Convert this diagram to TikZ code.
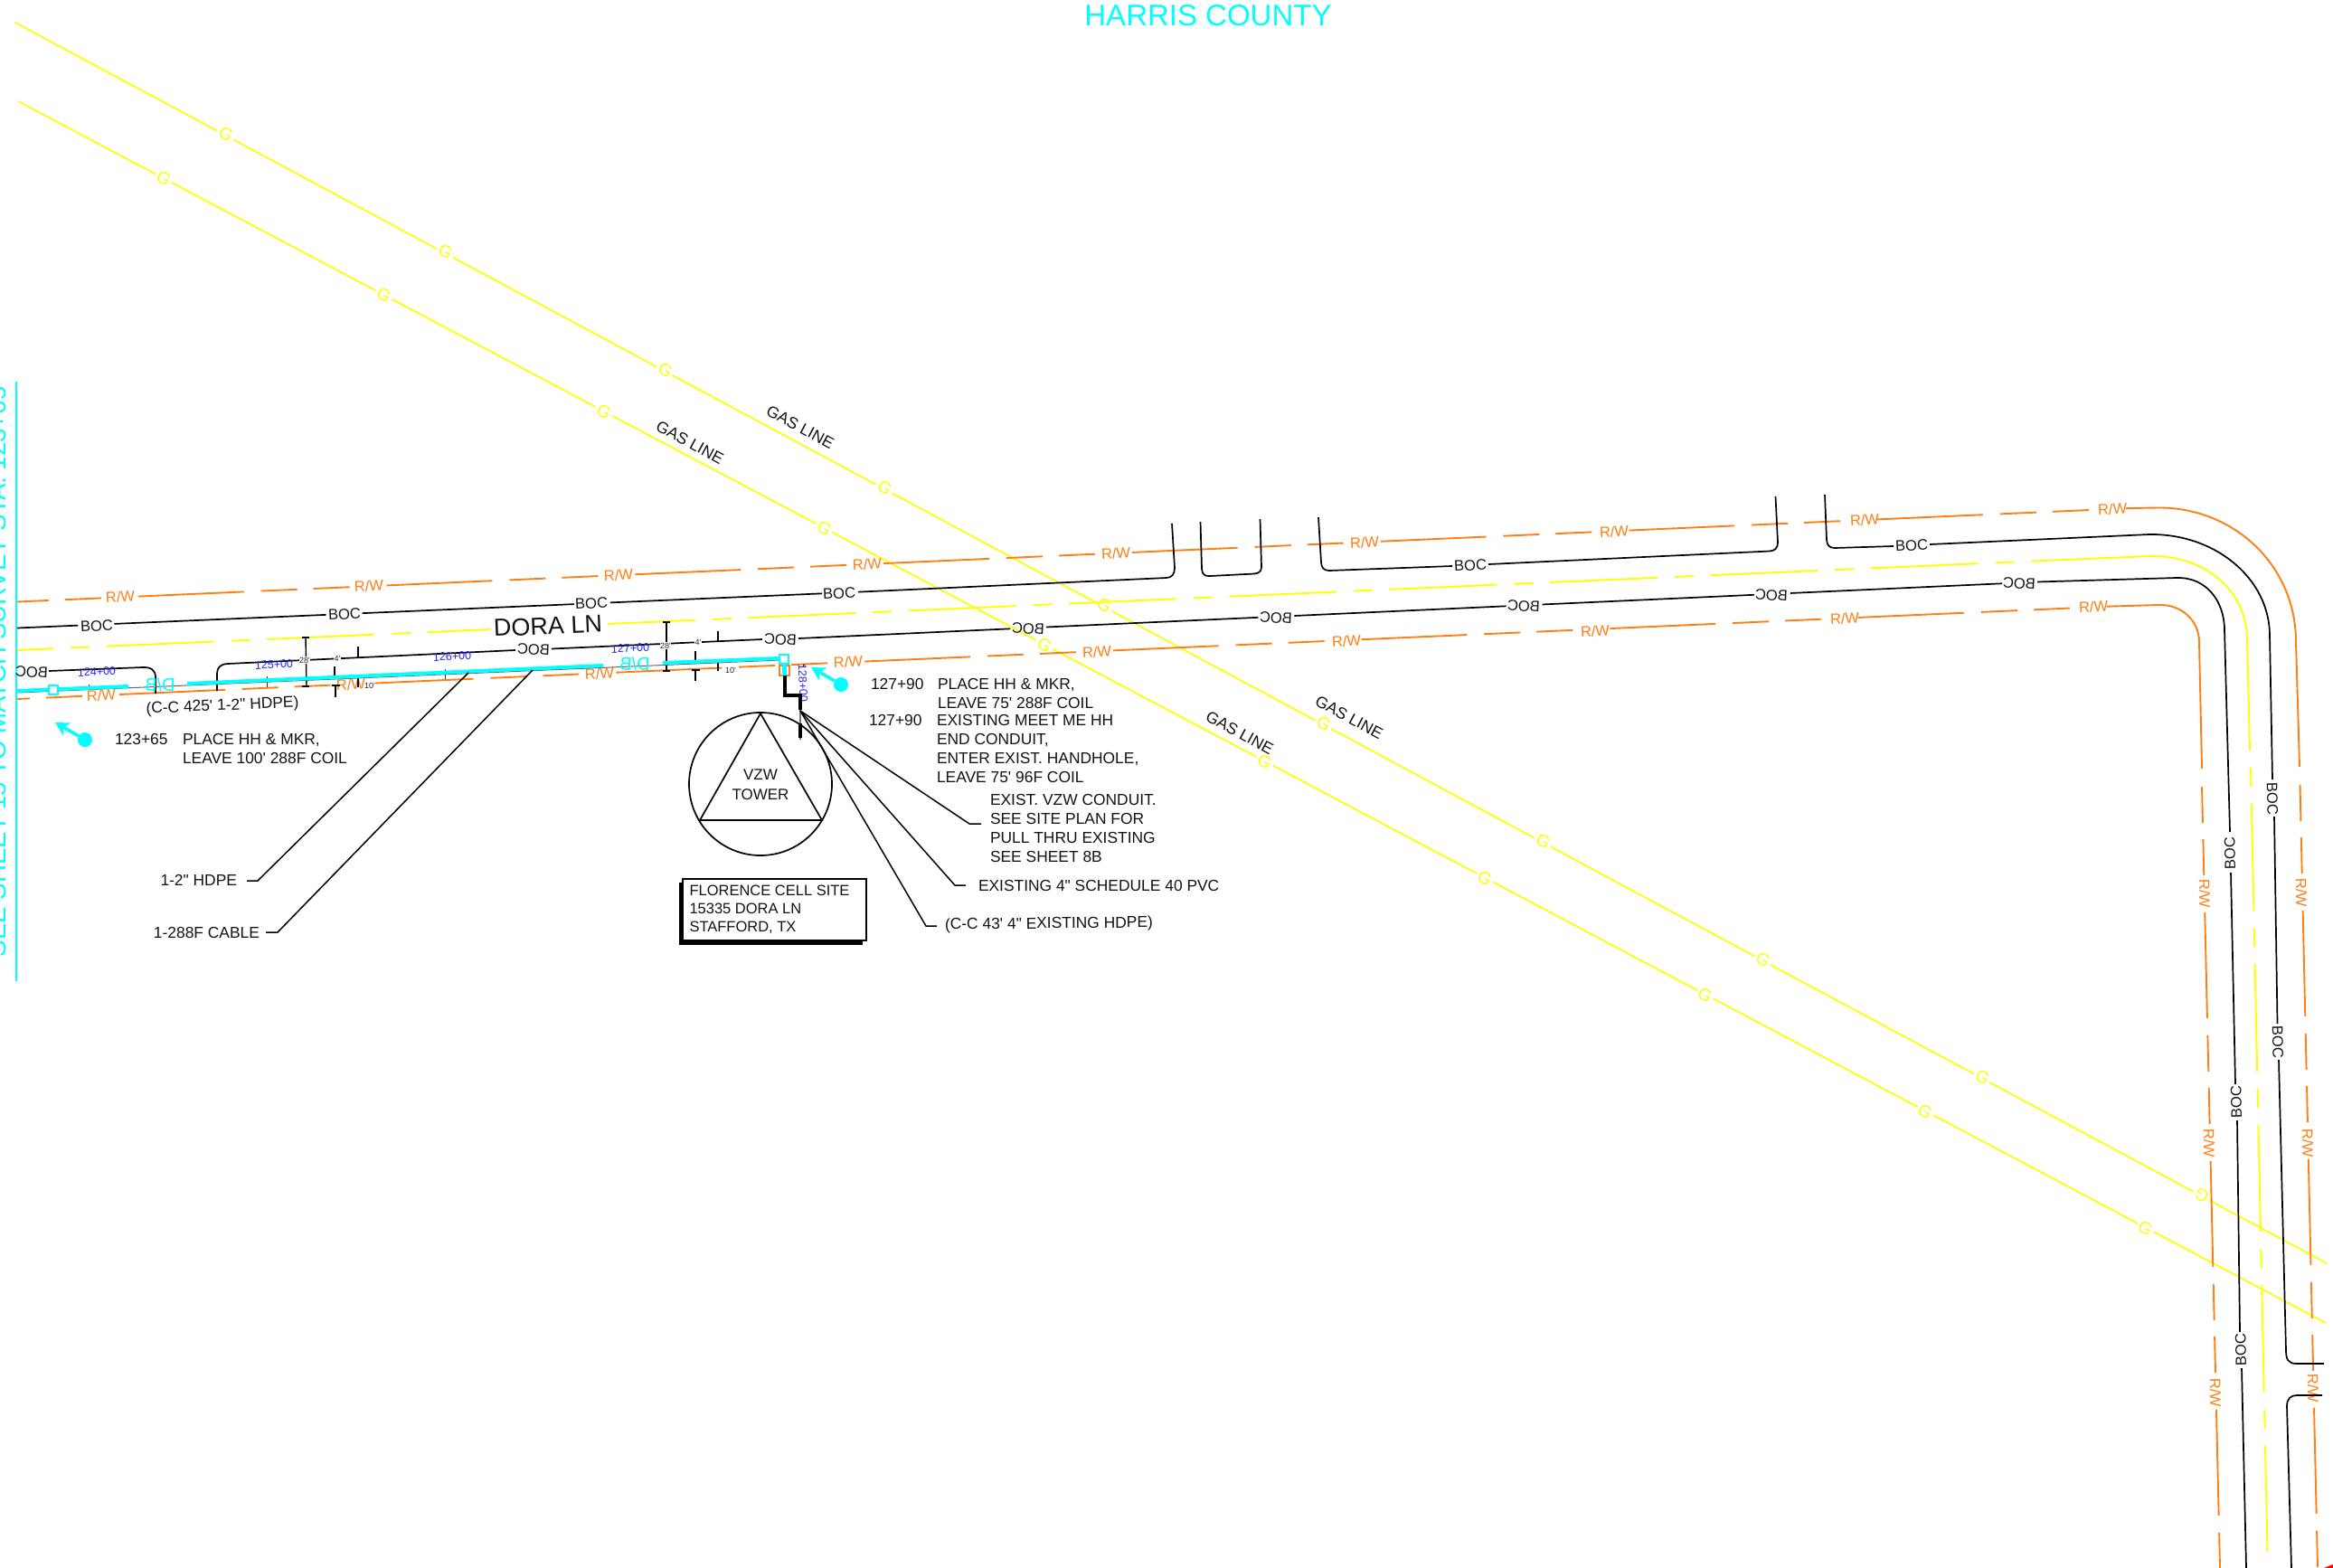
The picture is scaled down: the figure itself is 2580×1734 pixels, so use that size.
\documentclass[tikz,border=0pt]{standalone}
\usepackage{fontspec}
\usepackage{graphicx}
\usetikzlibrary{arrows.meta}
\newfontfamily\arial{Liberation Sans}
\definecolor{rwcol}{RGB}{255,127,20}
\definecolor{gascol}{RGB}{255,255,0}
\definecolor{cy}{RGB}{0,255,255}
\definecolor{stblue}{RGB}{35,35,255}
\newcommand{\fsz}[2]{\arial\fontsize{#1}{#2}\selectfont}
\tikzset{
  txt/.style={inner sep=0pt,outer sep=0pt,font=\fsz{#1}{#1},text=black!92},
  note/.style={inner sep=0pt,outer sep=0pt,font=\fsz{17.4}{21},text=black!92,align=left,anchor=west},
  rwlab/.style={txt=16.5,text=rwcol,rotate=2.5},
  rwv/.style={txt=16.5,text=rwcol,rotate=-88.7},
  boc/.style={txt=16.6,rotate=2.5},
  bocm/.style={txt=16.6,rotate=-2.5},
  sta/.style={txt=12.5,text=stblue,rotate=2.5},
  dimt/.style={txt=9,text=black!85,fill=white,inner sep=0.6pt},
  gasg/.style={txt=19,text=gascol,rotate=-28.2},
  gast/.style={txt=17.7,rotate=-28.2},
  dbt/.style={txt=20,text=cy,rotate=-2.5},
  rwline/.style={draw=rwcol,line width=1.9pt},
  rwdash/.style={rwline,dash pattern=on 117pt off 19pt on 40pt off 18pt on 40pt off 41pt},
  yline/.style={draw=gascol,line width=1.9pt},
  ydash/.style={yline,dash pattern=on 119pt off 19pt on 21pt off 18.5pt},
  gasline/.style={draw=gascol,line width=1.7pt,dash pattern=on 255.6pt off 20pt},
  bline/.style={draw=black,line width=1.7pt},
  bdash/.style={bline,dash pattern=on 234.5pt off 40pt},
  lead/.style={draw=black,line width=1.5pt},
  dimm/.style={draw=black,line width=1.4pt},
  dimb/.style={draw=black,line width=2pt},
  conduit/.style={draw=cy,line width=4pt},
  hh/.style={draw=cy,fill=white,line width=1.6pt,minimum size=10pt,inner sep=0pt,outer sep=0pt},
  hhdot/.style={circle,fill=cy,minimum size=16pt,inner sep=0pt,outer sep=0pt},
  hharrow/.style={draw=cy,line width=3.6pt,-{Stealth[length=15pt,width=16pt,inset=4pt]}},
  thick black/.style={draw=black,line width=3.4pt},
}
\begin{document}
\begin{tikzpicture}[x=1pt,y=-1pt]
\useasboundingbox (0,0) rectangle (2580,1734);
\fill[white] (0,0) rectangle (2580,1734);
\clip (0,0) rectangle (2580,1734);

% ---------- sheet match line and titles
\draw[draw=cy,line width=1.4pt] (18,422) -- (18,1085);
\node[txt=27.6,text=cy,rotate=90,anchor=base west] (matchtext) at (6.7,1058) {SEE SHEET 15 TO MATCH SURVEY STA. 123+65};
\node[txt=33,text=cy] (harris) at (1336,17) {HARRIS COUNTY};

% ---------- gas lines
\coordinate (g1a) at (16.5,24.7); \coordinate (g1b) at (2573,1397);
\coordinate (g2a) at (20,112);    \coordinate (g2b) at (2572,1463);
\draw[gasline,dash phase=1.6pt]  (g1a) -- (g1b);
\draw[gasline,dash phase=83.6pt] (g2a) -- (g2b);
\foreach \i in {0,...,8}{\node[gasg] (ga\i) at ({250+242.8*\i},{148+130.4*\i}) {G};}
\node[gasg,rotate=180] (ga9) at (2435,1322) {G};
\foreach \i in {0,...,9}{\node[gasg] (gb\i) at ({181+243.5*\i},{197+129*\i}) {G};}
\node[gast] (gl1) at (885,472) {GAS LINE};
\node[gast] (gl2) at (763,489) {GAS LINE};
\node[gast] (gl3) at (1492,793) {GAS LINE};
\node[gast] (gl4) at (1371,810) {GAS LINE};

% ---------- outer right-of-way
\draw[rwdash,dash phase=141pt] (19,665.5) -- (2356,562);
\draw[rwline] (2356,562) -- (2387,561.5) .. controls (2470,561) and (2539,625) .. (2539,710) -- (2543,848);
\draw[rwdash,dash phase=136pt] (2543.5,868) -- (2563,1734);
\foreach \x/\y [count=\n] in {133/660,408/648,684/636,959/624,1234/612,1509/600,1785/588,2062/575,2336/563}
  {\node[rwlab] (rwa\n) at (\x,\y) {R/W};}
\foreach \x/\y [count=\n] in {2545/987,2552/1264,2558/1535}
  {\node[rwv] (rwb\n) at (\x,\y) {R/W};}

% ---------- inner right-of-way
\draw[rwdash,dash phase=162pt] (19,773) -- (2335,670.5);
\draw[rwline] (2335,670.5) -- (2387,669) .. controls (2412,668) and (2432,686) .. (2432,710) -- (2435,850);
\draw[rwdash,dash phase=136pt] (2435,870) -- (2455,1734);
\foreach \x/\y [count=\n] in {112/769,388/757,663/745,938/732,1213/721,1489/709,1764/698,2040/684,2315/671}
  {\node[rwlab] (rwc\n) at (\x,\y) {R/W};}
\foreach \x/\y [count=\n] in {2438/988,2443/1264,2450/1540}
  {\node[rwv] (rwd\n) at (\x,\y) {R/W};}

% ---------- centre line
\draw[ydash,dash phase=78.5pt] (19,719) -- (543,696);
\draw[ydash,dash phase=22pt] (672,690) -- (2248,620.5);
\draw[yline] (2248,620.5) -- (2378,615) .. controls (2440,614) and (2485,655) .. (2485,707) -- (2488,830);
\draw[ydash,dash phase=138pt] (2489,849) -- (2507.5,1716);
\node[txt=27,rotate=2.5] (dora) at (606,692) {DORA LN};

% ---------- upper back of curb
\draw[bdash,dash phase=167pt] (19,694.5) -- (952,654.5);
\draw[bline] (952,654.5) -- (1290,639) .. controls (1296,638.7) and (1299,635) .. (1299,628) -- (1296,579);
\draw[bline] (1327.5,577) -- (1329,629) .. controls (1329.5,635) and (1332,637.5) .. (1338,637) -- (1387,634.5) .. controls (1392,634) and (1395,632) .. (1395,627) -- (1393.5,574);
\draw[bline] (1458,572) -- (1461,622) .. controls (1461.5,628) and (1464,631) .. (1470,631) -- (1606,626);
\draw[bline] (1646,624) -- (1957,609.5) .. controls (1963,609) and (1966,606) .. (1966,600) -- (1963.5,549);
\draw[bline] (2018,547) -- (2020,597) .. controls (2020.5,603) and (2023,606) .. (2029,606) -- (2094,604);
\draw[bline] (2134,602) -- (2377,591) .. controls (2450,590) and (2510,640) .. (2510,703) -- (2513,862);
\draw[bline] (2515,903) -- (2518.5,1132);
\draw[bline] (2520,1172) -- (2528,1494) .. controls (2528.2,1503) and (2530,1508) .. (2540,1508) -- (2570,1508);
\draw[bline] (2568,1543) -- (2540,1543) .. controls (2533,1543) and (2529,1547) .. (2529,1555) -- (2534,1734);
\foreach \x/\y [count=\n] in {107/692,381/679,654/667,928/656,1626/625,2114/603}
  {\node[boc] (boca\n) at (\x,\y) {BOC};}
\node[txt=16.6,rotate=-88.7] (bocb1) at (2513,883) {BOC};
\node[txt=16.6,rotate=-88.7] (bocb2) at (2519,1152) {BOC};

% ---------- lower back of curb
\draw[bline] (54,742) -- (158,738) .. controls (167,737.7) and (172,741) .. (172,749) -- (172,767);
\draw[bline] (240,764) -- (240,745) .. controls (240,738) and (244,734.3) .. (252,734) -- (570,719);
\draw[bline] (610,717.5) -- (843,707);
\draw[bdash] (883,706) -- (2253,643.5);
\draw[bline] (2253,643.5) -- (2407,639) .. controls (2440,638) and (2460,665) .. (2460,697) -- (2466,920);
\draw[bline] (2467,965) -- (2472,1199);
\draw[bline] (2474,1239) -- (2477,1473);
\draw[bline] (2479,1513) -- (2484,1734);
\foreach \x/\y [count=\n] in {35/743,590/718,863/707,1137/695,1411/683,1685/670,1959/658,2233/645}
  {\node[bocm] (bocc\n) at (\x,\y) {\reflectbox{BOC}};}
\node[txt=16.6,rotate=91.3] (bocd1) at (2466,944) {BOC};
\node[txt=16.6,rotate=91.3] (bocd2) at (2473,1219) {BOC};
\node[txt=16.6,rotate=91.3] (bocd3) at (2478,1493) {BOC};

% ---------- station ticks and labels
\draw[dimm,line width=1pt,draw=black!80] (98,757) -- (98,762);
\draw[dimm,line width=1pt,draw=black!80] (295,748) -- (295,760);
\draw[dimm,line width=1pt,draw=black!80] (492,740) -- (492,751);
\draw[dimm,line width=1pt,draw=black!80] (888,734) -- (888,738);
\node[sta] (st124) at (107,743) {124+00};
\node[sta] (st125) at (303,735) {125+00};
\node[sta] (st126) at (500,726) {126+00};
\node[sta] (st127) at (697,717) {127+00};
\node[txt=12.5,text=stblue,rotate=-87.5] (st128) at (888,755) {128+00};

% ---------- dimensions near 125+00
\draw[dimm] (338,705) -- (339,759);
\draw[dimb] (334,705) -- (342,705);
\draw[dimb] (334,759) -- (342,759);
\draw[dimm] (396,715) -- (396,727);
\draw[dimm] (370,737) -- (370,749);
\draw[dimb] (367,749) -- (376,749);
\draw[dimm] (371,771) -- (371,758);
\draw[dimb] (367,758) -- (376,758);
\draw[dimb] (392,748) -- (401,748);
\draw[dimm,line width=2pt] (396,748) -- (396,760);
\node[dimt] (d28a) at (337,730) {28'};
\node[dimt] (d4a) at (373,728) {4'};
\node[dimt] (d10a) at (409,758) {10'};
% ---------- dimensions near 127+00
\draw[dimm] (737,688) -- (737,742);
\draw[dimb] (733,688) -- (741,688);
\draw[dimb] (733,742) -- (741,742);
\draw[dimm] (794,698) -- (794,710);
\draw[dimm] (769,720) -- (769,732);
\draw[dimb] (765,732) -- (774,732);
\draw[dimm] (769,741) -- (769,753);
\draw[dimb] (765,741) -- (774,741);
\draw[dimb] (790,731) -- (799,731);
\draw[dimm] (794,731) -- (794,742);
\node[dimt] (d28b) at (736,714) {28'};
\node[dimt] (d4b) at (772,710) {4'};
\node[dimt] (d10b) at (808,741) {10'};

% ---------- conduit
\draw[draw=black!60,line width=1pt] (19,766) -- (862,730);
\draw[conduit] (19,764) -- (142,759);
\draw[conduit] (207,756) -- (667,736);
\draw[conduit] (733,733) -- (862,728);
\node[dbt] (db1) at (177,757) {\reflectbox{D/B}};
\node[dbt] (db2) at (702,734) {\reflectbox{D/B}};
\draw[rwcol,line width=1.5pt] (862,736) rectangle (873,747);
\draw[conduit,line width=5pt] (867,733) -- (867,748);
\node[hh] (hh1) at (59,763) {};
\node[hh] (hh2) at (867,729) {};
\draw[thick black] (868,747) -- (868,769) -- (885,769) -- (885,785);
\draw[draw=black!55,line width=1.4pt] (885,785) -- (885,818);
\draw[thick black] (885,800) -- (885,816);

% ---------- handhole arrows
\node[hhdot] (dot1) at (94,818) {};
\coordinate (tip1) at (61,799);
\draw[hharrow] (dot1) -- (tip1);
\node[hhdot] (dot2) at (930,757) {};
\coordinate (tip2) at (897,738);
\draw[hharrow] (dot2) -- (tip2);

% ---------- tower
\node[circle,draw=black,line width=1.7pt,minimum size=158pt,inner sep=0pt,outer sep=0pt] (tower) at (841,867) {};
\coordinate (tri1) at (841,789); \coordinate (tri2) at (774,907); \coordinate (tri3) at (909,907);
\draw[bline] (tri1) -- (tri2) -- (tri3) -- cycle;
\node[inner sep=0pt,outer sep=0pt,align=center,font=\fsz{17}{22},text=black!92] (vzw) at (841,868) {VZW\\TOWER};

% ---------- site box
\fill[black] (750.5,976) rectangle (953.5,1044.5);
\node[draw=black,line width=2pt,fill=white,minimum width=203pt,minimum height=68pt,inner sep=0pt,outer sep=0pt] (sitebox) at (856,1006) {};
\node[inner sep=0pt,outer sep=0pt,font=\fsz{16.5}{20},text=black!92,align=left,anchor=west] (sitetext) at (762.5,1006) {FLORENCE CELL SITE\\15335 DORA LN\\STAFFORD, TX};

% ---------- notes
\node[txt=17.4,rotate=2.5] (cc425) at (246,781) {(C-C 425' 1-2" HDPE)};
\node[txt=17.4,anchor=west] (s12365) at (127,818) {123+65};
\node[note] (note1) at (202,828.5) {PLACE HH \& MKR,\\LEAVE 100' 288F COIL};
\node[txt=17.4,anchor=west] (s12790a) at (963,757) {127+90};
\node[note] (note2) at (1037,767.5) {PLACE HH \& MKR,\\LEAVE 75' 288F COIL};
\node[txt=17.4,anchor=west] (s12790b) at (961,797) {127+90};
\node[note] (note3) at (1036,828.5) {EXISTING MEET ME HH\\END CONDUIT,\\ENTER EXIST. HANDHOLE,\\LEAVE 75' 96F COIL};
\node[note] (note4) at (1095,916) {EXIST. VZW CONDUIT.\\SEE SITE PLAN FOR\\PULL THRU EXISTING\\SEE SHEET 8B};
\node[txt=17.4,anchor=west] (note5) at (1082,979) {EXISTING 4" SCHEDULE 40 PVC};
\node[txt=17.4,anchor=west,rotate=0.6] (note6) at (1045,1023.5) {(C-C 43' 4" EXISTING HDPE)};
\node[txt=17.4,anchor=east] (hdpe) at (262,973) {1-2" HDPE};
\node[txt=17.4,anchor=east] (cable) at (287,1031) {1-288F CABLE};

% ---------- leaders
\coordinate (o) at (885,786);
\coordinate (k4) at (1072,911); \coordinate (e4) at (1085,911);
\coordinate (k5) at (1056,979); \coordinate (e5) at (1068,979);
\coordinate (k6) at (1024,1024); \coordinate (e6) at (1036,1024);
\draw[lead] (o) -- (k4) -- (e4);
\draw[lead] (o) -- (k5) -- (e5);
\draw[lead] (o) -- (k6) -- (e6);
\coordinate (h1) at (273,974); \coordinate (h2) at (285,974); \coordinate (h3) at (518,744);
\coordinate (c1) at (294,1031); \coordinate (c2) at (307,1031); \coordinate (c3) at (589,741);
\draw[lead] (h1) -- (h2) -- (h3);
\draw[lead] (c1) -- (c2) -- (c3);

\fill[red] (2570,1734) -- (2580,1730) -- (2580,1734) -- cycle;
\end{tikzpicture}
\end{document}
